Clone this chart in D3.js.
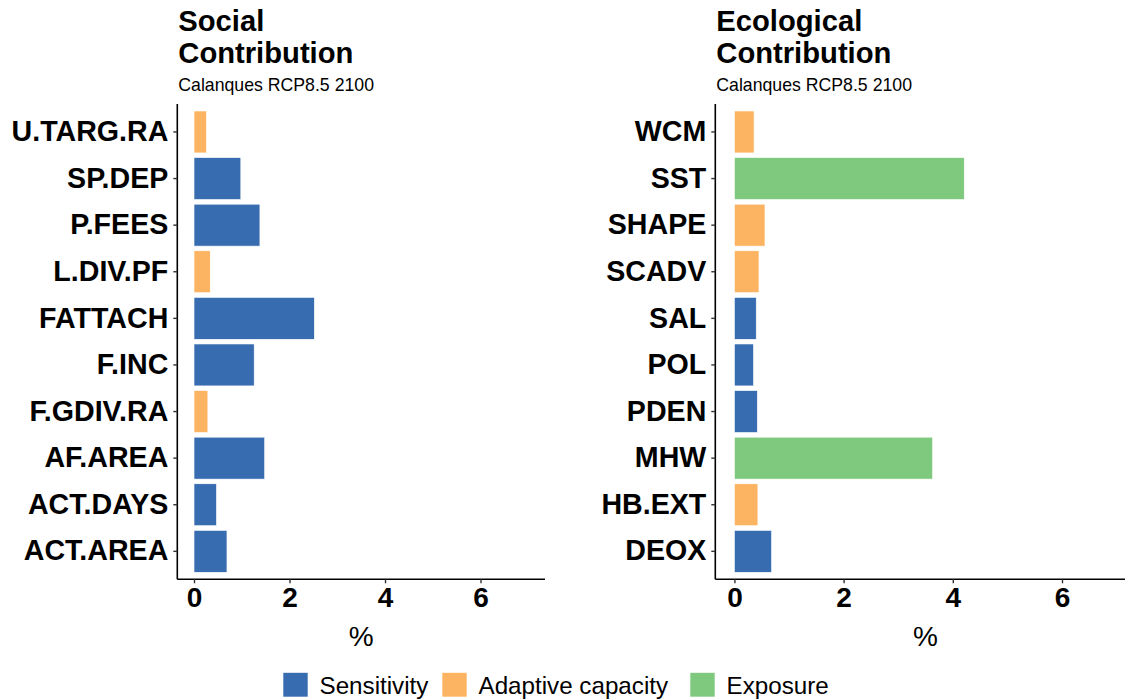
<!DOCTYPE html>
<html>
<head>
<meta charset="utf-8">
<script src="https://cdn.jsdelivr.net/npm/d3@7"></script>
<style>
  html, body { margin: 0; padding: 0; background: #fff; }
  svg { display: block; font-family: "Liberation Sans", Arial, Helvetica, sans-serif; }
</style>
</head>
<body>
<svg id="chart" width="1125" height="700"></svg>
<script>
// Indicator contributions (%) — listed top to bottom as drawn
const socialIndicators = ["U.TARG.RA", "SP.DEP", "P.FEES", "L.DIV.PF", "FATTACH", "F.INC", "F.GDIV.RA", "AF.AREA", "ACT.DAYS", "ACT.AREA"];
const socialValues     = [0.26, 0.98, 1.38, 0.34, 2.52, 1.26, 0.29, 1.48, 0.47, 0.69];
const socialComponents = ["Adaptive capacity", "Sensitivity", "Sensitivity", "Adaptive capacity", "Sensitivity", "Sensitivity", "Adaptive capacity", "Sensitivity", "Sensitivity", "Sensitivity"];

const ecoIndicators = ["WCM", "SST", "SHAPE", "SCADV", "SAL", "POL", "PDEN", "MHW", "HB.EXT", "DEOX"];
const ecoValues     = [0.36, 4.21, 0.56, 0.45, 0.40, 0.35, 0.42, 3.63, 0.43, 0.68];
const ecoComponents = ["Adaptive capacity", "Exposure", "Adaptive capacity", "Adaptive capacity", "Sensitivity", "Sensitivity", "Sensitivity", "Exposure", "Adaptive capacity", "Sensitivity"];

const components = ["Sensitivity", "Adaptive capacity", "Exposure"];
const componentColors = ["#386cb0", "#fdb462", "#7fc97f"];
const xTicks = [0, 2, 4, 6];
const xLimits = [0, 7];
const subtitle = "Calanques RCP8.5 2100";

const svg = d3.select("#chart");
const color = d3.scaleOrdinal().domain(components).range(componentColors);

function drawPanel(opts) {
  const { left, right, top, bottom, titleLines, indicators, values, comps } = opts;
  const pad = (xLimits[1] - xLimits[0]) * 0.05;
  const x = d3.scaleLinear().domain([xLimits[0] - pad, xLimits[1] + pad]).range([left, right]);
  const y = d3.scaleBand().domain(indicators).range([top, bottom]).paddingInner(0.1).paddingOuter(0.15);

  const g = svg.append("g");

  // Title and subtitle
  titleLines.forEach((t, i) => {
    g.append("text").attr("x", left + 1).attr("y", 31 + i * 32)
      .attr("font-size", 29.2).attr("font-weight", "bold").attr("fill", "#000").text(t);
  });
  g.append("text").attr("x", left + 1).attr("y", 91)
    .attr("font-size", 17.7).attr("fill", "#000").text(subtitle);

  // Bars
  const data = indicators.map((d, i) => ({ name: d, value: values[i], comp: comps[i] }));
  g.selectAll("rect.bar").data(data).join("rect")
    .attr("class", "bar")
    .attr("x", x(0))
    .attr("y", d => y(d.name))
    .attr("width", d => x(d.value) - x(0))
    .attr("height", y.bandwidth())
    .attr("fill", d => color(d.comp))
    .attr("stroke", "#ffffff").attr("stroke-width", 0.6);

  // Y axis
  const yAxis = g.append("g").attr("transform", `translate(${left},0)`)
    .call(d3.axisLeft(y).tickSize(4).tickPadding(5));
  yAxis.select(".domain").attr("stroke", "#000").attr("stroke-width", 1.6)
    .attr("d", `M0,${top}V${bottom}`);
  yAxis.selectAll(".tick line").attr("stroke", "#333").attr("stroke-width", 1.4);
  yAxis.selectAll(".tick text").attr("font-size", 28.6).attr("font-weight", "bold")
    .attr("fill", "#000").attr("font-family", "Liberation Sans, Arial, sans-serif");

  // X axis
  const xAxis = g.append("g").attr("transform", `translate(0,${bottom})`)
    .call(d3.axisBottom(x).tickValues(xTicks).tickFormat(d3.format("d")).tickSize(4).tickPadding(4));
  xAxis.select(".domain").attr("stroke", "#000").attr("stroke-width", 1.6)
    .attr("d", `M${left},0H${right}`);
  xAxis.selectAll(".tick line").attr("stroke", "#333").attr("stroke-width", 1.4);
  xAxis.selectAll(".tick text").attr("font-size", 28).attr("font-weight", "bold")
    .attr("fill", "#000").attr("font-family", "Liberation Sans, Arial, sans-serif");

  g.append("text").attr("x", (left + right) / 2).attr("y", 646)
    .attr("text-anchor", "middle").attr("font-size", 28).attr("fill", "#000").text("%");
}

drawPanel({
  left: 177.3, right: 545, top: 104, bottom: 579.3,
  titleLines: ["Social", "Contribution"],
  indicators: socialIndicators, values: socialValues, comps: socialComponents
});
drawPanel({
  left: 715.3, right: 1135.7, top: 104, bottom: 579.3,
  titleLines: ["Ecological", "Contribution"],
  indicators: ecoIndicators, values: ecoValues, comps: ecoComponents
});

// Legend
const legendItems = [
  { comp: "Sensitivity", x: 283 },
  { comp: "Adaptive capacity", x: 442 },
  { comp: "Exposure", x: 690 }
];
const legend = svg.append("g");
legendItems.forEach(it => {
  legend.append("rect").attr("x", it.x).attr("y", 672.5).attr("width", 25).attr("height", 24.5)
    .attr("fill", color(it.comp)).attr("stroke", "#fff").attr("stroke-width", 0.6);
  legend.append("text").attr("x", it.x + 36.5).attr("y", 694)
    .attr("font-size", 24.2).attr("fill", "#000").text(it.comp);
});
</script>
</body>
</html>
